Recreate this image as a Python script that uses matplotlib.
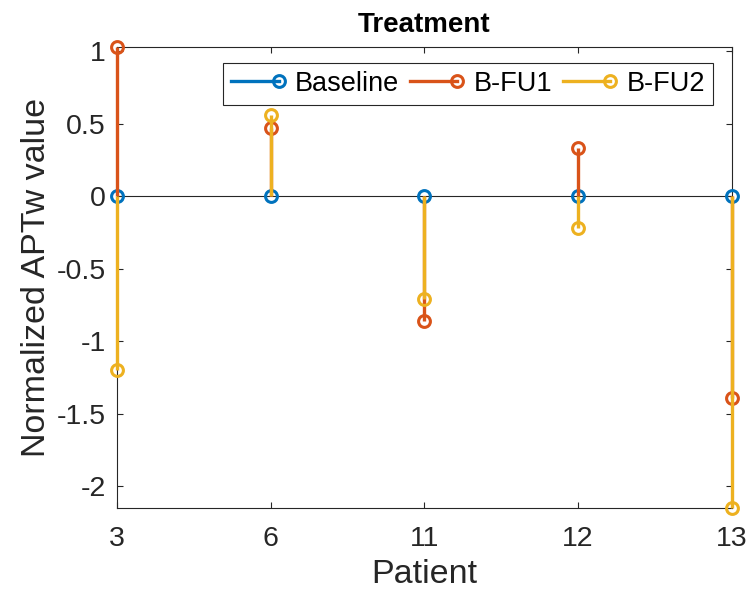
import matplotlib
matplotlib.use("Agg")
import matplotlib.pyplot as plt
from matplotlib.lines import Line2D
from matplotlib.legend_handler import HandlerLine2D

plt.rcParams['font.family'] = ['Liberation Sans', 'DejaVu Sans']
plt.rcParams['axes.unicode_minus'] = False

patients = ['3', '6', '11', '12', '13']
baseline = [0.0, 0.0, 0.0, 0.0, 0.0]
b_fu1 = [1.03, 0.47, -0.86, 0.33, -1.39]
b_fu2 = [-1.20, 0.56, -0.71, -0.22, -2.15]

series_names = ['Baseline', 'B-FU1', 'B-FU2']
series_colors = ['#0072BD', '#D95319', '#EDB120']
yticks = [-2, -1.5, -1, -0.5, 0, 0.5, 1]
ytick_labels = ['-2', '-1.5', '-1', '-0.5', '0', '0.5', '1']

dark = '#262626'


class StemLegendHandler(HandlerLine2D):
    # line with the circle sitting at its right end, like a stem legend entry
    def create_artists(self, legend, orig_handle, xdescent, ydescent,
                       width, height, fontsize, trans):
        y = height / 2 - ydescent
        x0, x1 = -xdescent, width - xdescent
        line = Line2D([x0, x1], [y, y], color=orig_handle.get_color(),
                      lw=orig_handle.get_linewidth())
        mk = Line2D([x1], [y], marker='o', ls='none',
                    mfc='none', mec=orig_handle.get_color(),
                    mew=orig_handle.get_markeredgewidth(),
                    ms=orig_handle.get_markersize())
        line.set_transform(trans)
        mk.set_transform(trans)
        return [line, mk]


fig = plt.figure(figsize=(7.49, 5.94), dpi=100)
ax = fig.add_axes([0.156, 0.145, 0.821, 0.776])

x = list(range(1, len(patients) + 1))
handles = []
for i, (vals, name, col) in enumerate(zip([baseline, b_fu1, b_fu2], series_names, series_colors)):
    markerline, stemlines, base = ax.stem(x, vals)
    stemlines.set_color(col)
    stemlines.set_linewidth(2.4)
    stemlines.set_zorder(3 + i)
    stemlines.set_clip_on(False)
    markerline.set_marker('o')
    markerline.set_markerfacecolor('none')
    markerline.set_markeredgecolor(col)
    markerline.set_markeredgewidth(2.2)
    markerline.set_markersize(8.5)
    markerline.set_linestyle('none')
    markerline.set_zorder(3.5 + i)
    markerline.set_clip_on(False)
    if i == 0:
        base.set_color(dark)
        base.set_linewidth(0.8)
        base.set_zorder(2)
    else:
        base.set_visible(False)
    handles.append(Line2D([], [], color=col, lw=2.4, marker='o', mfc='none',
                          mec=col, mew=2.2, ms=8.5, label=name))

all_vals = baseline + b_fu1 + b_fu2
ax.set_xlim(x[0], x[-1])
ax.set_ylim(min(all_vals), max(all_vals))
ax.set_xticks(x)
ax.set_xticklabels(patients)
ax.set_yticks(yticks)
ax.set_yticklabels(ytick_labels)

for sp in ax.spines.values():
    sp.set_color(dark)
    sp.set_linewidth(0.8)
ax.tick_params(direction='in', length=4, width=0.8, colors=dark,
               labelsize=20.5, top=True, right=True)
ax.tick_params(axis='x', pad=13)
ax.tick_params(axis='y', pad=8)
for lab in ax.get_xticklabels() + ax.get_yticklabels():
    lab.set_color(dark)

ax.set_xlabel('Patient', fontsize=24.5, color=dark, labelpad=5)
ax.set_ylabel('Normalized APTw value', fontsize=24.5, color=dark, labelpad=3)
ax.set_title('Treatment', fontsize=20, fontweight='bold', color='black', pad=11)

leg = ax.legend(handles=handles, loc='upper right', bbox_to_anchor=(0.97, 0.966),
                ncol=3, fontsize=19.5, frameon=True, fancybox=False,
                edgecolor=dark, framealpha=1, borderpad=0.3,
                handlelength=1.75, handletextpad=0.6, columnspacing=0.4,
                borderaxespad=0,
                handler_map={Line2D: StemLegendHandler()})
leg.get_frame().set_linewidth(0.8)

fig.savefig('out.png', dpi=100, facecolor='white')
